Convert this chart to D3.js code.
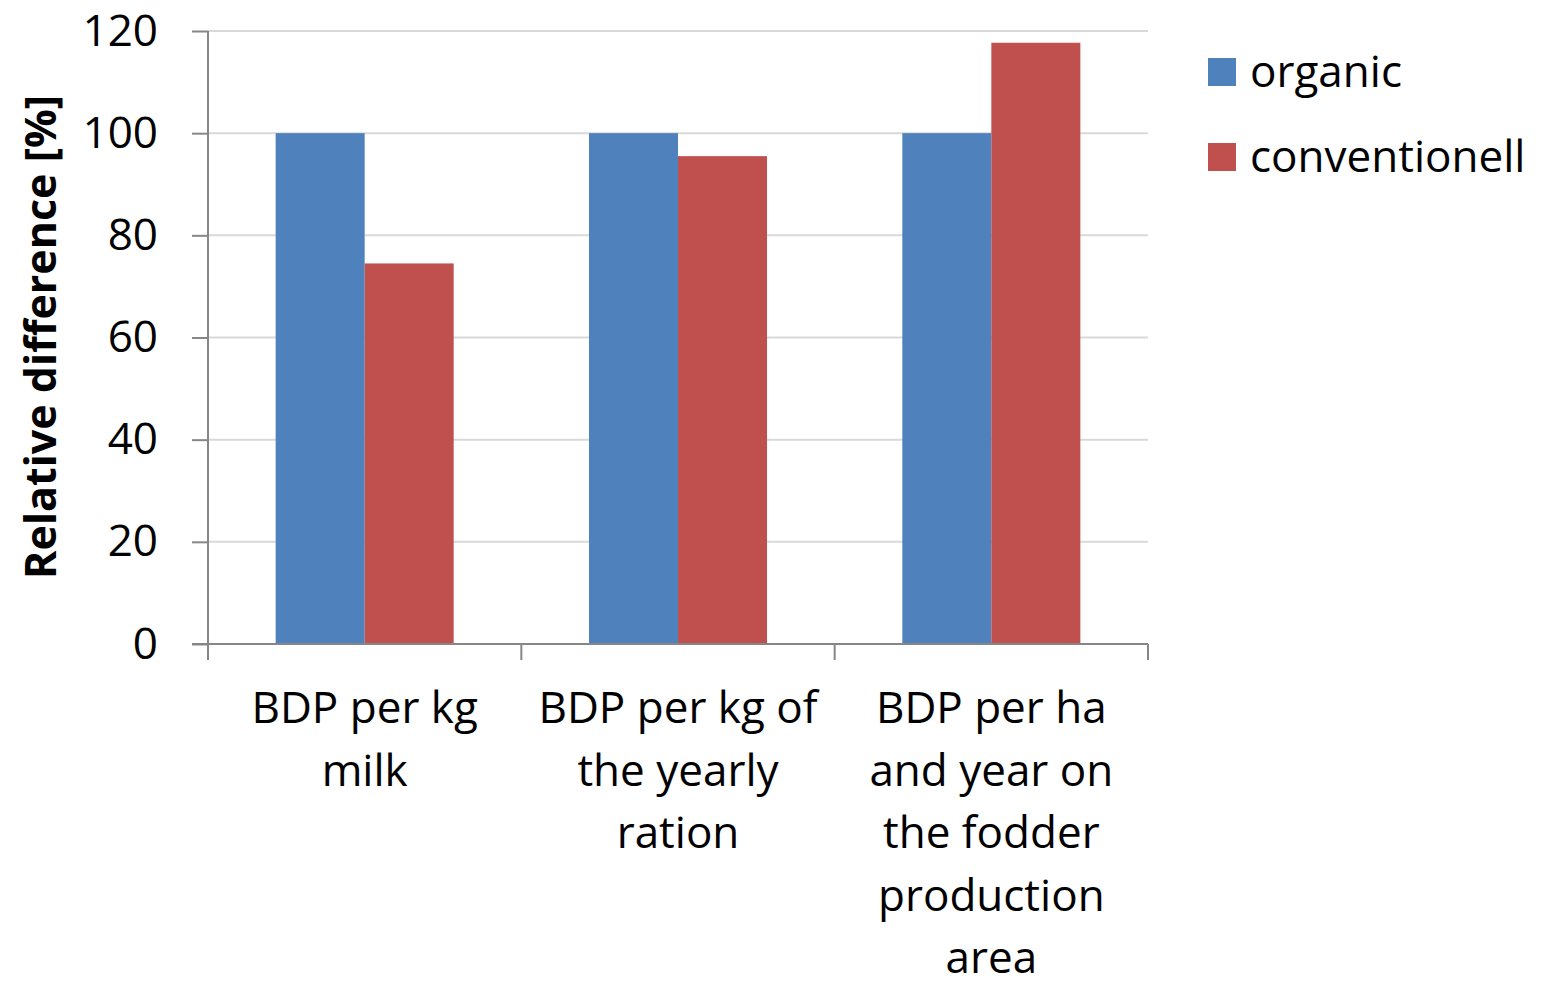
<!DOCTYPE html>
<html>
<head>
<meta charset="utf-8">
<style>
	body { margin: 0; background: #fff; }
	text { font-family: "Open Sans", Lato, sans-serif; fill: #000; }
</style>
</head>
<body>
<svg width="1544" height="988"></svg>
<script src="https://d3js.org/d3.v7.min.js"></script>
<script>

var categories = [
	['BDP per kg', 'milk'],
	['BDP per kg of', 'the yearly', 'ration'],
	['BDP per ha', 'and year on', 'the fodder', 'production', 'area']
]
var seriesNames = ['organic', 'conventionell']
var organic = [100, 100, 100]
var conventionell = [74.5, 95.5, 117.7]
var yTicks = [0, 20, 40, 60, 80, 100, 120]

var colors = ['#4f81bd', '#c0504d']

var plotLeft = 208, plotRight = 1148, plotTop = 31, plotBottom = 644

var svg = d3.select('svg')

var x = d3.scaleBand()
	.domain(d3.range(categories.length))
	.range([plotLeft, plotRight])

var y = d3.scaleLinear()
	.domain([0, 120])
	.range([plotBottom, plotTop])

// two bars per group, gap of ~0.76 bar width on each side
var inner = d3.scaleBand()
	.domain(seriesNames)
	.range([0, x.bandwidth()])
	.paddingInner(0)
	.paddingOuter(0.76)

// gridlines
svg.append('g')
	.selectAll('line')
	.data(yTicks.filter(function(d) { return d > 0 }))
	.enter().append('line')
	.attr('x1', plotLeft).attr('x2', plotRight)
	.attr('y1', function(d) { return y(d) }).attr('y2', function(d) { return y(d) })
	.style('stroke', '#d9d9d9')
	.style('stroke-width', 2)

// bars
var groups = svg.append('g')
	.selectAll('g')
	.data(categories.map(function(c, i) { return [organic[i], conventionell[i]] }))
	.enter().append('g')
	.attr('transform', function(d, i) { return 'translate(' + x(i) + ',0)' })

groups.selectAll('rect')
	.data(function(d) { return d.map(function(v, j) { return {v: v, s: seriesNames[j], j: j} }) })
	.enter().append('rect')
	.attr('x', function(d) { return inner(d.s) })
	.attr('width', inner.bandwidth())
	.attr('y', function(d) { return y(d.v) })
	.attr('height', function(d) { return y(0) - y(d.v) })
	.style('fill', function(d) { return colors[d.j] })

// y axis
var yAxis = svg.append('g')
	.attr('transform', 'translate(' + plotLeft + ',0)')
	.call(d3.axisLeft(y).tickValues(yTicks).tickSize(16).tickPadding(34))
yAxis.selectAll('line, path').style('stroke', '#868686').style('stroke-width', 2)
yAxis.select('.domain').attr('d', 'M0,' + plotTop + 'V' + plotBottom)
yAxis.selectAll('text')
	.style('font-size', '44px')
	.style('font-family', '"Open Sans", sans-serif')
	.attr('fill', '#000')

// x axis
var xAxis = svg.append('g')
	.attr('transform', 'translate(0,' + plotBottom + ')')
xAxis.append('line')
	.attr('x1', plotLeft - 16).attr('x2', plotRight)
	.style('stroke', '#868686').style('stroke-width', 2)
xAxis.selectAll('.tick')
	.data(d3.range(categories.length + 1))
	.enter().append('line')
	.attr('x1', function(d) { return d < categories.length ? x(d) : plotRight })
	.attr('x2', function(d) { return d < categories.length ? x(d) : plotRight })
	.attr('y1', 0).attr('y2', 16)
	.style('stroke', '#868686').style('stroke-width', 2)

// category labels
categories.forEach(function(lines, i) {
	var t = svg.append('text')
		.attr('text-anchor', 'middle')
		.style('font-size', '44px')
	lines.forEach(function(l, k) {
		t.append('tspan')
			.attr('x', x(i) + x.bandwidth() / 2)
			.attr('y', 723 + k * 62.5)
			.text(l)
	})
})

// axis title
svg.append('text')
	.attr('transform', 'translate(56,337) rotate(-90)')
	.attr('text-anchor', 'middle')
	.style('font-size', '43px')
	.style('font-weight', 'bold')
	.text('Relative difference [%]')

// legend
var legend = svg.append('g')
	.selectAll('g')
	.data(seriesNames)
	.enter().append('g')
	.attr('transform', function(d, i) { return 'translate(1208,' + (58 + i * 85) + ')' })
legend.append('rect')
	.attr('width', 28).attr('height', 28)
	.style('fill', function(d, i) { return colors[i] })
legend.append('text')
	.attr('x', 42).attr('y', 29)
	.style('font-size', '44px')
	.text(function(d) { return d })

</script>
</body>
</html>
